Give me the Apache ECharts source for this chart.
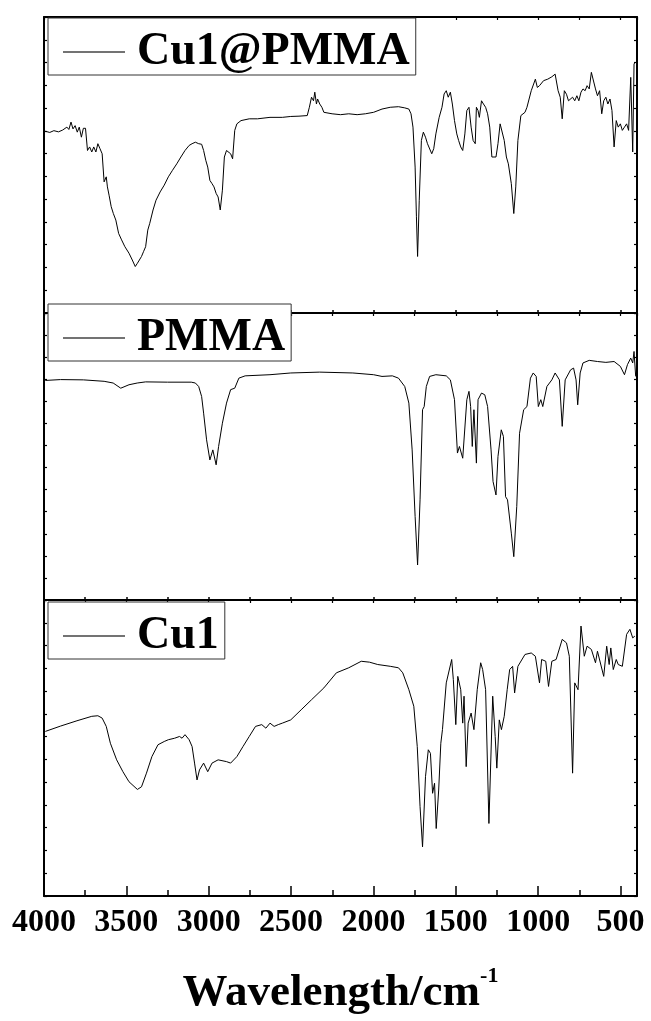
<!DOCTYPE html>
<html>
<head>
<meta charset="utf-8">
<script src="https://cdn.jsdelivr.net/npm/echarts@6/dist/echarts.min.js"></script>
<style>
  html, body { margin: 0; padding: 0; background: #fff; }
  #chart { width: 651px; height: 1021px; }
</style>
</head>
<body>
<div id="chart"></div>
<script>
// FTIR spectra, [wavenumber (cm-1), relative transmittance (0-100 within each panel)]
const seriesNames = ['Cu1@PMMA', 'PMMA', 'Cu1'];

const cu1PmmaSpectrum = [
  [3992,61.4],[3965,61.0],[3940,61.6],[3912,61.2],[3887,61.8],[3861,62.8],[3849,62.0],[3836,64.5],[3824,62.2],[3811,63.3],
  [3798,61.1],[3786,62.8],[3773,59.4],[3761,62.4],[3748,62.4],[3736,54.9],[3723,56.1],[3710,54.4],[3698,56.1],[3685,54.4],
  [3673,57.2],[3660,55.5],[3647,53.8],[3635,44.3],[3622,46.0],[3615,42.6],[3605,39.8],[3592,35.9],[3579,33.6],[3564,31.4],
  [3547,26.9],[3529,24.7],[3509,22.4],[3484,20.2],[3464,17.9],[3446,15.7],[3433,16.8],[3421,16.3],[3408,19.1],[3396,20.7],
  [3383,22.4],[3370,28.0],[3358,30.3],[3338,34.8],[3320,38.1],[3295,40.9],[3270,43.2],[3245,46.0],[3220,48.2],[3194,50.4],
  [3169,52.7],[3144,54.9],[3119,56.6],[3101,57.2],[3081,57.7],[3061,57.2],[3043,57.0],[3031,54.9],[3018,51.6],[3006,49.3],
  [2993,44.8],[2980,43.7],[2968,42.6],[2955,40.4],[2943,39.2],[2930,34.8],[2917,41.5],[2905,52.7],[2892,54.9],[2880,55.5],
  [2867,53.8],[2855,52.1],[2842,61.7],[2829,63.9],[2804,65.0],[2754,65.6],[2704,65.6],[2628,66.1],[2553,66.1],[2502,66.4],
  [2452,66.5],[2402,66.7],[2389,69.5],[2376,72.9],[2364,71.7],[2356,74.6],[2346,70.6],[2339,72.3],[2326,70.6],[2313,69.5],
  [2301,67.8],[2251,67.3],[2200,67.0],[2150,67.3],[2099,67.0],[2049,67.3],[1999,67.8],[1948,68.9],[1898,69.5],[1848,69.7],
  [1810,69.3],[1785,68.9],[1772,67.3],[1760,62.8],[1747,49.3],[1739,32.5],[1732,19.1],[1722,38.1],[1709,58.3],[1697,61.1],
  [1684,59.4],[1672,57.2],[1646,53.8],[1634,55.5],[1621,60.5],[1601,66.1],[1584,69.5],[1571,74.0],[1558,75.1],[1546,72.9],
  [1533,74.6],[1521,70.6],[1508,65.0],[1494,60.5],[1483,58.3],[1470,56.1],[1458,54.9],[1445,60.5],[1433,68.4],[1420,69.5],
  [1407,62.8],[1395,58.3],[1382,57.2],[1375,69.5],[1365,68.4],[1357,66.1],[1344,71.7],[1332,70.6],[1319,69.5],[1307,67.3],
  [1294,62.8],[1281,52.7],[1269,52.1],[1256,52.7],[1244,57.2],[1231,63.9],[1219,64.5],[1206,58.3],[1193,52.7],[1181,50.4],
  [1163,43.7],[1148,33.6],[1136,42.6],[1123,58.3],[1105,66.7],[1080,67.8],[1068,69.5],[1042,75.1],[1017,79.0],[1005,76.2],
  [992,76.8],[967,78.5],[942,79.0],[917,79.8],[897,80.7],[879,75.1],[866,72.9],[854,65.6],[841,75.1],[828,73.9],
  [816,71.7],[791,72.9],[778,71.7],[765,73.4],[753,71.7],[740,74.6],[728,75.7],[715,75.1],[703,76.8],[690,75.7],
  [677,81.3],[665,80.7],[652,75.7],[640,73.4],[627,75.1],[614,67.3],[602,71.7],[589,72.9],[577,70.6],[564,72.3],
  [552,68.4],[539,56.1],[526,65.0],[514,62.8],[501,63.9],[489,61.7],[476,62.8],[463,63.9],[451,61.7],[438,79.6],
  [426,54.4],[418,84.1],[413,84.6]
];

const pmmaSpectrum = [
  [3992,76.5],[3900,76.8],[3761,76.7],[3635,76.2],[3580,75.6],[3534,73.8],[3484,75.0],[3434,75.6],[3383,76.0],[3250,75.9],
  [3106,75.9],[3081,75.6],[3061,74.4],[3043,70.9],[3031,65.1],[3013,55.8],[2993,48.8],[2975,52.3],[2955,47.1],[2940,53.5],
  [2917,61.6],[2892,68.6],[2867,73.3],[2842,73.8],[2817,77.3],[2779,78.1],[2628,78.5],[2502,79.1],[2326,79.4],[2125,79.1],
  [1999,78.5],[1948,77.9],[1885,78.1],[1848,77.3],[1810,74.4],[1785,68.6],[1765,52.3],[1747,29.1],[1732,12.2],[1717,34.9],
  [1702,66.3],[1692,67.4],[1679,74.4],[1659,77.9],[1621,78.5],[1558,78.1],[1533,76.7],[1508,69.8],[1490,51.2],[1478,53.5],
  [1458,49.4],[1433,69.8],[1420,72.7],[1410,67.4],[1400,53.5],[1390,66.3],[1375,47.7],[1365,69.8],[1344,72.1],[1324,71.5],
  [1307,67.4],[1286,52.3],[1274,41.3],[1256,36.6],[1244,50.0],[1224,59.3],[1211,57.0],[1198,36.0],[1186,34.9],[1163,23.3],
  [1148,15.1],[1130,32.6],[1113,58.1],[1088,66.3],[1068,67.4],[1047,77.3],[1030,79.1],[1012,77.9],[999,67.4],[984,69.8],
  [972,67.4],[947,74.4],[917,76.7],[897,79.1],[871,76.7],[854,60.5],[836,76.7],[803,80.2],[785,80.8],[770,76.7],
  [760,68.0],[745,79.1],[728,82.6],[690,83.5],[640,83.1],[589,82.8],[539,83.1],[501,81.4],[476,78.5],[458,82.0],
  [438,84.3],[426,82.6],[418,86.6],[408,77.9]
];

const cu1Spectrum = [
  [3992,55.6],[3900,57.4],[3800,59.2],[3710,60.7],[3673,60.9],[3647,60.1],[3622,57.3],[3597,51.6],[3559,46.0],[3521,42.0],
  [3484,38.6],[3433,36.0],[3408,36.9],[3378,41.5],[3345,47.1],[3308,51.1],[3270,52.2],[3245,52.8],[3207,53.3],[3177,53.9],
  [3162,53.3],[3144,54.5],[3119,52.8],[3101,50.5],[3086,44.9],[3071,39.2],[3056,42.6],[3031,44.9],[3006,42.0],[2980,44.9],
  [2943,46.0],[2892,45.4],[2867,44.9],[2829,47.1],[2792,50.5],[2754,53.9],[2716,57.3],[2678,57.9],[2653,56.7],[2628,58.4],
  [2603,57.3],[2578,57.9],[2553,58.4],[2502,59.5],[2439,62.9],[2376,66.3],[2301,70.3],[2225,75.4],[2150,77.1],[2074,79.3],
  [2024,79.0],[1974,78.2],[1898,77.6],[1848,77.1],[1822,75.4],[1785,69.7],[1755,64.1],[1734,50.5],[1717,30.2],[1702,16.6],
  [1684,40.3],[1667,49.4],[1654,48.2],[1641,34.7],[1629,38.1],[1619,22.8],[1604,35.8],[1591,51.6],[1581,56.2],[1558,72.0],
  [1525,79.9],[1515,73.1],[1500,57.9],[1488,74.2],[1470,69.7],[1458,58.4],[1450,67.5],[1437,43.7],[1425,58.4],[1407,61.8],
  [1390,56.2],[1370,69.7],[1349,78.8],[1337,76.5],[1319,69.7],[1299,24.5],[1276,67.5],[1261,53.9],[1251,43.2],[1236,59.5],
  [1223,56.2],[1206,60.7],[1188,69.7],[1173,76.5],[1155,77.6],[1143,68.6],[1123,77.6],[1080,81.6],[1042,82.1],[1017,81.0],
  [992,72.0],[979,79.9],[954,79.3],[937,70.8],[917,79.3],[891,79.9],[854,86.7],[828,85.5],[811,81.0],[791,41.5],
  [778,72.0],[758,69.7],[740,91.2],[720,81.0],[703,84.4],[677,83.3],[652,78.8],[640,82.7],[602,74.2],[584,84.4],
  [569,78.2],[559,83.8],[544,76.5],[526,79.9],[514,78.2],[489,77.6],[463,88.4],[443,90.1],[426,87.2],[413,87.8]
];

const tickLabels = [4000, 3500, 3000, 2500, 2000, 1500, 1000, 500];
const spectra = [cu1PmmaSpectrum, pmmaSpectrum, cu1Spectrum];

const serif = '"Liberation Serif", "Times New Roman", serif';
const panels = [
  { top: 17, height: 296, legendTop: 18 },
  { top: 313, height: 287, legendTop: 304 },
  { top: 600, height: 296, legendTop: 602 }
];

const grid = panels.map(p => ({ left: 44, right: 14, top: p.top, height: p.height }));

const axisLine = { show: true, onZero: false, lineStyle: { color: '#000', width: 2 } };

const xAxis = [];
const yAxis = [];
panels.forEach((p, i) => {
  const isLast = i === panels.length - 1;
  // bottom edge of each panel
  xAxis.push({
    type: 'value', gridIndex: i, position: 'bottom', min: 400, max: 4000, inverse: true, splitNumber: 7,
    axisLine: axisLine,
    splitLine: { show: false },
    axisTick: { show: true, inside: true, length: isLast ? 10 : 3, lineStyle: { color: '#000', width: 1.5 } },
    minorTick: { show: true, splitNumber: 2, length: isLast ? 6 : 3, lineStyle: { color: '#000', width: 1.5 } },
    axisLabel: {
      show: isLast, margin: 10, color: '#000', fontFamily: serif, fontWeight: 'bold', fontSize: 32, lineHeight: 33,
      formatter: v => tickLabels.indexOf(v) >= 0 ? String(v) : ''
    },
    name: isLast ? '{a|Wavelength/cm}{b|-1}' : '',
    nameLocation: 'middle',
    nameGap: 69,
    nameTextStyle: {
      rich: {
        a: { fontFamily: serif, fontWeight: 'bold', fontSize: 45, lineHeight: 56, color: '#000' },
        b: { fontFamily: serif, fontWeight: 'bold', fontSize: 22, lineHeight: 24, color: '#000', verticalAlign: 'top' }
      }
    }
  });
  // top edge of each panel
  xAxis.push({
    type: 'value', gridIndex: i, position: 'top', min: 400, max: 4000, inverse: true, splitNumber: 7,
    axisLine: axisLine,
    splitLine: { show: false },
    axisTick: { show: true, inside: true, length: 3, lineStyle: { color: '#000', width: 1.2 } },
    minorTick: { show: true, splitNumber: 2, length: 3, lineStyle: { color: '#000', width: 1.2 } },
    axisLabel: { show: false }
  });
  ['left', 'right'].forEach(side => {
    yAxis.push({
      type: 'value', gridIndex: i, position: side, min: 0, max: 100, interval: 100 / 13,
      axisLine: axisLine,
      splitLine: { show: false },
      axisTick: { show: true, inside: true, length: 3, lineStyle: { color: '#000', width: 1.2 } },
      axisLabel: { show: false }
    });
  });
});

const series = spectra.map((data, i) => ({
  name: seriesNames[i],
  type: 'line',
  xAxisIndex: 2 * i,
  yAxisIndex: 2 * i,
  data: data,
  showSymbol: false,
  symbol: 'none',
  lineStyle: { color: '#000', width: 1 },
  itemStyle: { color: '#000' },
  z: 3
}));

const legend = panels.map((p, i) => ({
  data: [seriesNames[i]],
  left: 48,
  top: p.legendTop,
  orient: 'horizontal',
  selectedMode: false,
  icon: 'rect',
  itemWidth: 62,
  itemHeight: 1.3,
  itemStyle: { color: '#444' },
  backgroundColor: '#fff',
  borderColor: '#333',
  borderWidth: 1,
  padding: [11, 6, 0, 15],
  textStyle: {
    fontFamily: serif, fontWeight: 'bold', fontSize: 46, lineHeight: 30, color: '#000',
    padding: [0, 0, 14, 7]
  },
  z: 10
}));

const chart = echarts.init(document.getElementById('chart'), null, { renderer: 'canvas' });
chart.setOption({
  animation: false,
  backgroundColor: '#fff',
  grid: grid,
  xAxis: xAxis,
  yAxis: yAxis,
  legend: legend,
  series: series
});
</script>
</body>
</html>
